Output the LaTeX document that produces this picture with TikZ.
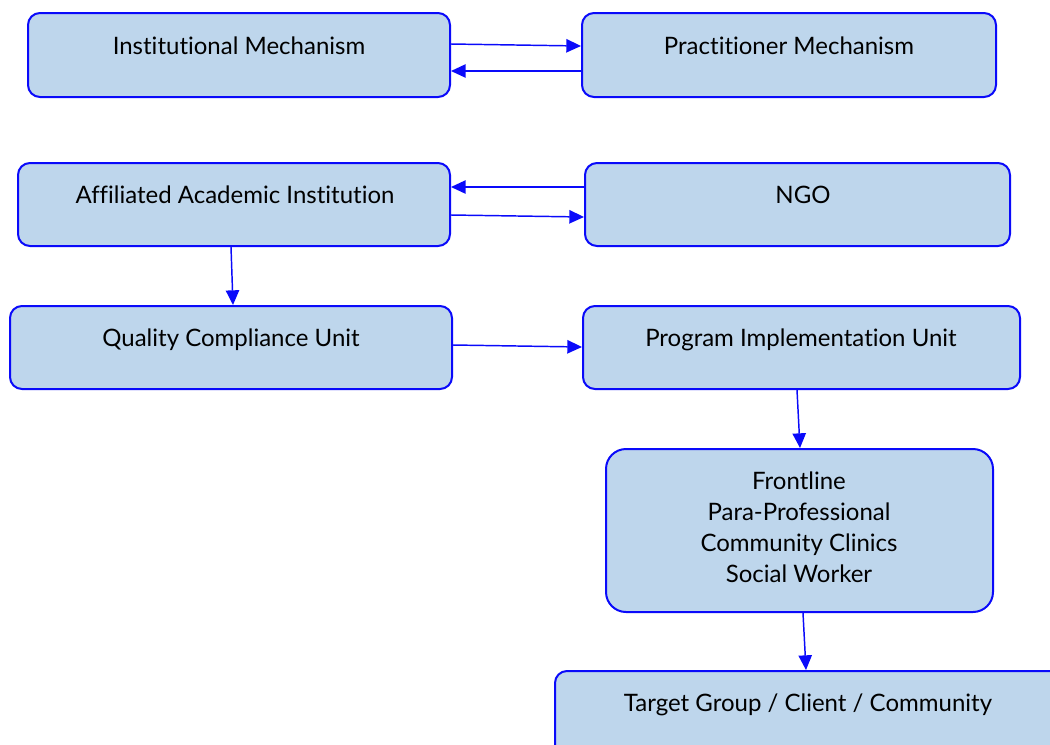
\documentclass[tikz,border=0pt]{standalone}
\usepackage{fontspec}
\setmainfont{Lato}[Ligatures={NoCommon}]
\usetikzlibrary{arrows.meta}
\definecolor{boxfill}{RGB}{190,214,236}
\definecolor{edgeblue}{RGB}{10,10,250}
\tikzset{
  box/.style={draw=edgeblue, line width=1.5pt, fill=boxfill, rounded corners=9pt,
    rectangle, inner sep=0pt},
  lbl/.style={font=\fontsize{18pt}{23.25pt}\selectfont, align=center, inner sep=0pt,
    text=black},
  arr/.style={draw=edgeblue, line width=1.1pt, -{Triangle[length=11pt,width=10pt]}}
}
\begin{document}
\begin{tikzpicture}[x=0.75pt,y=-0.75pt]
\useasboundingbox (0,0) rectangle (1050,744);
\clip (0,0) rectangle (1050,744);
% boxes (sizes and centres in pixels)
\node[box, minimum width=422*0.75pt, minimum height=84*0.75pt] (inst) at (239,55) {};
\node[box, minimum width=414*0.75pt, minimum height=84*0.75pt] (prac) at (789,55) {};
\node[box, minimum width=432*0.75pt, minimum height=83*0.75pt] (aff) at (234,204.5) {};
\node[box, minimum width=425*0.75pt, minimum height=83*0.75pt] (ngo) at (797.5,204.5) {};
\node[box, minimum width=442*0.75pt, minimum height=83*0.75pt] (qcu) at (231,347.5) {};
\node[box, minimum width=437*0.75pt, minimum height=83*0.75pt] (piu) at (801.5,347.5) {};
\node[box, rounded corners=15pt, minimum width=387*0.75pt, minimum height=163*0.75pt] (front) at (799.5,530.5) {};
\node[box, minimum width=510*0.75pt, minimum height=100*0.75pt] (target) at (810,721) {};
% labels
\node[lbl] (instt) at (239,46) {Institutional Mechanism};
\node[lbl] (pract) at (789,46) {Practitioner Mechanism};
\node[lbl] (afft) at (235,195) {Affiliated Academic Institution};
\node[lbl] (ngot) at (803,195) {NGO};
\node[lbl] (qcut) at (231,340) {Quality Compliance Unit};
\node[lbl] (piut) at (801,340) {Program Implementation Unit};
\node[lbl] (frontt) at (799,527.5) {Frontline\\Para-Professional\\Community Clinics\\Social Worker};
\node[lbl] (targett) at (808,705) {Target Group / Client / Community};
% connectors
\draw[arr] (inst.east |- 0,44) -- (prac.west |- 0,46);
\draw[arr] (prac.west |- 0,71) -- (inst.east |- 0,71);
\draw[arr] (ngo.west |- 0,187) -- (aff.east |- 0,187);
\draw[arr] (aff.east |- 0,215) -- (ngo.west |- 0,217);
\draw[arr] (aff.south -| 231,0) -- (qcu.north -| 233,0);
\draw[arr] (qcu.east |- 0,345) -- (piu.west |- 0,347);
\draw[arr] (piu.south -| 797,0) -- (front.north -| 800,0);
\draw[arr] (front.south -| 803,0) -- (target.north -| 806,0);
\end{tikzpicture}
\end{document}
